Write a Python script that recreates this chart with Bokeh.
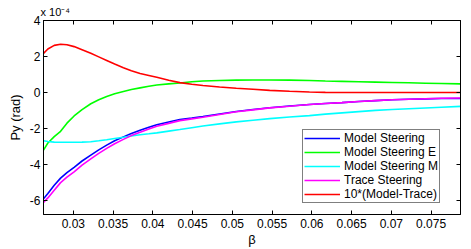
from bokeh.plotting import figure
from bokeh.models import LinearAxis, FixedTicker, Title
from bokeh.embed import file_html
from bokeh.resources import INLINE

# ---- data (values in units of 1e-4 rad) ----
beta = [0.02625, 0.0268, 0.0276, 0.0284, 0.0292, 0.0301, 0.0311, 0.0322, 0.0332, 0.0342,
        0.0352, 0.0363, 0.0373, 0.0384, 0.0395, 0.0405, 0.042, 0.0434, 0.0449, 0.0463,
        0.0484, 0.0505, 0.0526, 0.0547, 0.0572, 0.0597, 0.0617, 0.0638, 0.0659, 0.068,
        0.0701, 0.0722, 0.0743, 0.0763, 0.0787]

model_steering = [-5.9, -5.6, -5.15, -4.75, -4.45, -4.15, -3.8, -3.47, -3.18, -2.92,
                  -2.68, -2.46, -2.27, -2.09, -1.93, -1.79, -1.64, -1.50, -1.42, -1.33,
                  -1.19, -1.05, -0.94, -0.84, -0.75, -0.66, -0.61, -0.56, -0.50, -0.45,
                  -0.40, -0.37, -0.35, -0.33, -0.33]

model_steering_e = [-3.2, -2.8, -2.45, -2.15, -1.7, -1.3, -0.95, -0.62, -0.40, -0.22,
                    -0.07, 0.06, 0.17, 0.26, 0.35, 0.42, 0.48, 0.53, 0.60, 0.64,
                    0.67, 0.69, 0.70, 0.70, 0.69, 0.67, 0.64, 0.62, 0.60, 0.58,
                    0.56, 0.54, 0.52, 0.50, 0.48]

model_steering_m = [-2.68, -2.72, -2.75, -2.76, -2.76, -2.76, -2.75, -2.73, -2.68, -2.62,
                    -2.55, -2.48, -2.41, -2.34, -2.29, -2.24, -2.14, -2.05, -1.95, -1.86,
                    -1.74, -1.63, -1.54, -1.45, -1.36, -1.28, -1.20, -1.13, -1.06, -0.99,
                    -0.94, -0.90, -0.86, -0.82, -0.77]

trace_steering = [-6.1, -5.85, -5.42, -5.0, -4.7, -4.4, -4.03, -3.68, -3.38, -3.10,
                  -2.84, -2.60, -2.39, -2.20, -2.02, -1.87, -1.71, -1.56, -1.46, -1.37,
                  -1.22, -1.07, -0.96, -0.85, -0.76, -0.66, -0.61, -0.56, -0.50, -0.45,
                  -0.40, -0.37, -0.34, -0.32, -0.30]

model_minus_trace_x10 = [2.17, 2.42, 2.62, 2.68, 2.65, 2.55, 2.38, 2.18, 1.98, 1.78,
                         1.58, 1.38, 1.21, 1.06, 0.95, 0.85, 0.68, 0.55, 0.46, 0.39,
                         0.31, 0.24, 0.18, 0.12, 0.07, 0.03, 0.01, 0.0, 0.0, 0.0,
                         0.0, 0.0, 0.0, 0.0, 0.0]

series_names = ["Model Steering", "Model Steering E", "Model Steering M",
                "Trace Steering", "10*(Model-Trace)"]
series_colors = ["#0000ff", "#00ff00", "#00ffff", "#ff00ff", "#ff0000"]

x_ticks = [0.03, 0.035, 0.04, 0.045, 0.05, 0.055, 0.06, 0.065, 0.07, 0.075]
x_tick_labels = ["0.03", "0.035", "0.04", "0.045", "0.05", "0.055", "0.06", "0.065", "0.07", "0.075"]
y_ticks = [-6, -4, -2, 0, 2, 4]
y_tick_labels = ["-6", "-4", "-2", "0", "2", "4"]
exponent_text = "x 10\u207b\u2074"

FONT = "Liberation Sans"

p = figure(width=463, height=249, output_backend="svg", toolbar_location=None,
           x_range=(0.02625, 0.0787), y_range=(-6.77, 4),
           min_border_left=43, min_border_right=3, min_border_top=20, min_border_bottom=33,
           x_axis_label="β", y_axis_label="Py (rad)")

p.title = Title(text=exponent_text, align="left", offset=-3, standoff=5,
                text_font=FONT, text_font_size="11px", text_font_style="normal",
                text_color="black")

p.xgrid.visible = False
p.ygrid.visible = False
p.outline_line_color = "black"
p.outline_line_width = 1
p.background_fill_color = "white"
p.border_fill_color = "white"

all_series = [model_steering, model_steering_e, model_steering_m, trace_steering, model_minus_trace_x10]
for vals, name, col in zip(all_series, series_names, series_colors):
    p.line(beta, vals, line_color=col, line_width=1.6, legend_label=name)

# axes styling
for ax in (p.xaxis[0], p.yaxis[0]):
    ax.major_tick_in = 4
    ax.major_tick_out = 0
    ax.minor_tick_line_color = None
    ax.axis_line_color = "black"
    ax.major_tick_line_color = "black"
    ax.major_label_text_font = FONT
    ax.major_label_text_font_size = "12px"
    ax.major_label_text_color = "black"
    ax.axis_label_text_font = FONT
    ax.axis_label_text_font_size = "13px"
    ax.axis_label_text_font_style = "normal"
    ax.axis_label_text_color = "black"

p.xaxis[0].ticker = FixedTicker(ticks=x_ticks)
p.xaxis[0].major_label_overrides = dict(zip(x_ticks, x_tick_labels))
p.xaxis[0].major_label_standoff = 4
p.xaxis[0].axis_label_standoff = 1
p.yaxis[0].ticker = FixedTicker(ticks=y_ticks)
p.yaxis[0].major_label_overrides = dict(zip(y_ticks, y_tick_labels))
p.yaxis[0].major_label_standoff = 3
p.yaxis[0].axis_label_standoff = 4

top_axis = LinearAxis(ticker=FixedTicker(ticks=x_ticks), major_tick_in=4, major_tick_out=0,
                      minor_tick_line_color=None, major_label_text_font_size="1px",
                      major_label_overrides={t: "" for t in x_ticks},
                      major_label_standoff=0, axis_line_color="black")
right_axis = LinearAxis(ticker=FixedTicker(ticks=y_ticks), major_tick_in=4, major_tick_out=0,
                        minor_tick_line_color=None, major_label_text_font_size="1px",
                        major_label_overrides={t: "" for t in y_ticks},
                        major_label_standoff=0, axis_line_color="black")
p.add_layout(top_axis, "above")
p.add_layout(right_axis, "right")

lg = p.legend[0]
lg.location = (259, 11)
lg.border_line_color = "black"
lg.border_line_width = 1
lg.background_fill_color = "white"
lg.background_fill_alpha = 1
lg.label_text_font = FONT
lg.label_text_font_size = "12px"
lg.label_text_color = "black"
lg.glyph_width = 36
lg.glyph_height = 12
lg.label_height = 12
lg.spacing = 0
lg.padding = 1
lg.margin = 0
lg.label_standoff = 4

open("out.html", "w").write(file_html(p, INLINE))
